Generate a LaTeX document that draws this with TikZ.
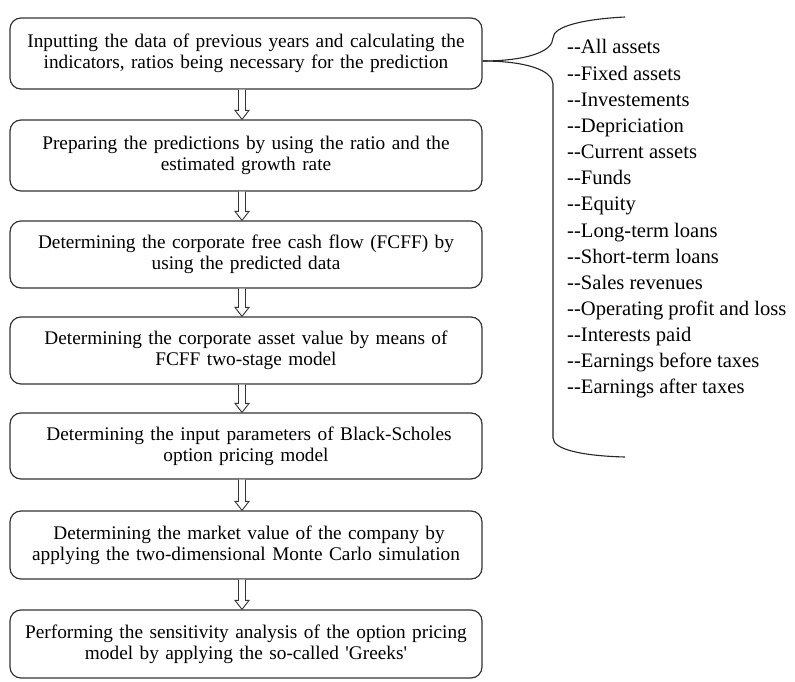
\documentclass[tikz,border=0pt]{standalone}
\usepackage{fontspec}
\newfontfamily\lfont{Liberation Serif}
\usetikzlibrary{calc}
\tikzset{
  stepbox/.style={draw=black!80, line width=1.2pt, rounded corners=11pt,
    minimum width=472pt, text width=466pt, align=center, inner sep=0pt,
    font=\lfont\fontsize{19.3}{21}\selectfont},
  listitem/.style={anchor=base west, inner sep=0pt, font=\lfont\fontsize{20.6}{21}\selectfont},
  harrow/.style={draw=black!80, line width=0.9pt, fill=white, to path={
    let \p1=(\tikztostart), \p2=(\tikztotarget) in
    (\x1-3.5pt,\y1) -- (\x1-3.5pt,\y2+9pt) -- (\x1-7pt,\y2+9pt) -- (\x1,\y2)
    -- (\x1+7pt,\y2+9pt) -- (\x1+3.5pt,\y2+9pt) -- (\x1+3.5pt,\y1)}},
  bracepath/.style={draw=black!85, line width=1.1pt}
}
\begin{document}
\begin{tikzpicture}[x=1pt,y=-1pt]
\useasboundingbox (0,0) rectangle (795,682);
\node[stepbox, minimum height=71pt] (b1) at (246,53.5) {Inputting the data of previous years and calculating the\\indicators, ratios being necessary for the prediction};
\node[stepbox, minimum height=71pt] (b2) at (246,155.5) {Preparing the predictions by using the ratio and the\\estimated growth rate};
\node[stepbox, minimum height=67pt] (b3) at (246,254.5) {Determining the corporate free cash flow (FCFF) by\\using the predicted data};
\node[stepbox, minimum height=67pt] (b4) at (246,350.5) {Determining the corporate asset value by means of\\FCFF two-stage model};
\node[stepbox, minimum height=66pt] (b5) at (246,446) {\hspace*{6pt}Determining the input parameters of Black-Scholes\\option pricing model};
\node[stepbox, minimum height=68pt] (b6) at (246,545) {\hspace*{6pt}Determining the market value of the company by\\applying the two-dimensional Monte Carlo simulation};
\node[stepbox, minimum height=68pt] (b7) at (246,644) {Performing the sensitivity analysis of the option pricing\\model by applying the so-called 'Greeks'};

\foreach \a/\b in {b1/b2,b2/b3,b3/b4,b4/b5,b5/b6,b6/b7}
  \path[harrow] ([xshift=-4pt]\a.south) to ([xshift=-4pt]\b.north);

\coordinate (tip) at ([yshift=-7.5pt]b1.east);
\draw[bracepath] (tip) .. controls (525,61) and (553,52) .. (553,38)
  .. controls (553,26) and (585,19) .. (625,17);
\draw[bracepath] (tip) .. controls (525,61) and (553,70) .. (553,84)
  -- (553,438) .. controls (553,450) and (585,456) .. (625,457);

\foreach \t [count=\i] in {All assets, Fixed assets, Investements, Depriciation,
  Current assets, Funds, Equity, Long-term loans, Short-term loans, Sales revenues,
  Operating profit and loss, Interests paid, Earnings before taxes, Earnings after taxes}
  \node[listitem] (l\i) at (567,{54+26.15*(\i-1)}) {--\t};
\end{tikzpicture}
\end{document}
